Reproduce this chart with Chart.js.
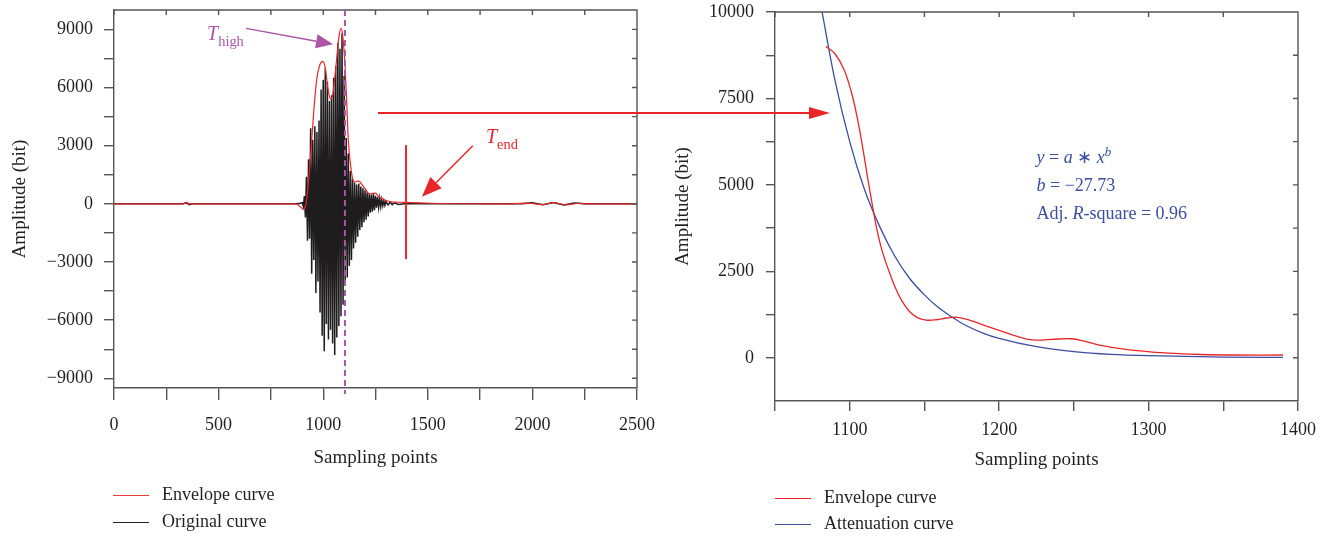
<!DOCTYPE html>
<html>
<head>
<meta charset="utf-8">
<script src="https://cdn.jsdelivr.net/npm/chart.js@4"></script>
<style>
  body { margin: 0; background: #fff; }
  #wrap { position: relative; width: 1331px; height: 537px; font-family: "Liberation Serif", serif; color: #231f20; }
  canvas { position: absolute; top: 0; }
  .leg { position: absolute; font-size: 18px; line-height: 20px; white-space: nowrap; }
  .leg i { display: inline-block; width: 36px; height: 0; border-top: 1.5px solid; vertical-align: middle; margin-right: 13px; }
</style>
</head>
<body>
<div id="wrap">
  <canvas id="leftChart" width="660" height="480" style="left:0"></canvas>
  <canvas id="rightChart" width="671" height="480" style="left:660px"></canvas>
  <svg width="1331" height="537" style="position:absolute;left:0;top:0;pointer-events:none">
    <line x1="378" y1="113" x2="812" y2="113" stroke="#e8262a" stroke-width="2.2"/>
    <polygon points="809,107 830,113 809,119" fill="#e8262a"/>
  </svg>
  <div class="leg" style="left:113px;top:484px"><i style="color:#ee3b3b"></i>Envelope curve</div>
  <div class="leg" style="left:113px;top:511px"><i style="color:#231f20"></i>Original curve</div>
  <div class="leg" style="left:775px;top:487px"><i style="color:#e8262a"></i>Envelope curve</div>
  <div class="leg" style="left:775px;top:513px"><i style="color:#3b4ea2"></i>Attenuation curve</div>
</div>
<script>
// ---- data ----
// left: whole record
const leftXTicks = [0, 250, 500, 750, 1000, 1250, 1500, 1750, 2000, 2250, 2500];
const leftYTicks = [-9000, -7500, -6000, -4500, -3000, -1500, 0, 1500, 3000, 4500, 6000, 7500, 9000];
const envelopeLeft = [
  [0, 0], [330, 0], [345, 80], [360, 0], [870, 0], [890, -150], [905, -280], [915, -150],
  [925, 600], [940, 2500], [955, 4800], [970, 6500], [985, 7200], [998, 7350], [1010, 7000],
  [1022, 6000], [1035, 5400], [1045, 5600], [1060, 7000], [1075, 8600], [1086, 9050],
  [1095, 8500], [1105, 7000], [1112, 5400], [1118, 3700], [1124, 2700], [1131, 2000],
  [1138, 1430], [1148, 1140], [1160, 1150], [1170, 1190], [1185, 1000], [1200, 780], [1220, 520],
  [1235, 530], [1248, 550], [1268, 350], [1300, 170], [1335, 90], [1390, 80], [1420, 60],
  [1500, 30], [1900, 0], [1980, 40], [2050, -40], [2100, 60], [2160, -50], [2220, 30],
  [2260, 0], [2500, 0]
];
const originalCurve = [
  [0, 0], [330, 0], [345, 60], [360, -40], [375, 0], [880, 0],
  [900, 60], [905, -150], [910, 400], [915, -700], [920, 1400], [925, -1900], [930, 2300],
  [935, -1800], [940, 3900], [945, -3600], [950, 3300], [955, -2900], [960, 4000],
  [965, -4600], [970, 3700], [975, -4000], [980, 4300], [985, -5600], [990, 5900],
  [995, -6800], [1000, 6400], [1005, -7600], [1010, 7000], [1015, -6200], [1020, 6300],
  [1025, -7000], [1030, 5300], [1035, -6500], [1040, 5600], [1045, -7200], [1050, 6500],
  [1055, -7800], [1060, 7100], [1065, -6900], [1070, 8300], [1075, -6300], [1080, 8000],
  [1085, -5800], [1090, 8800], [1095, -5200], [1100, 6600], [1105, -4100], [1110, 3400],
  [1115, -3800], [1120, 2600], [1125, -3200], [1130, 1700], [1135, -2900], [1140, 1300],
  [1145, -2300], [1150, 1100], [1155, -2000], [1160, 1000], [1165, -1700], [1170, 1050],
  [1175, -1350], [1180, 900], [1185, -1200], [1190, 800], [1195, -950], [1200, 700],
  [1205, -820], [1210, 600], [1215, -650], [1220, 500], [1225, -460], [1230, 480],
  [1235, -400], [1240, 500], [1245, -330], [1250, 420], [1255, -200], [1260, 350],
  [1265, -180], [1270, 280], [1275, -150], [1280, 220], [1285, -100], [1290, 160],
  [1295, -80], [1300, 120], [1310, -60], [1320, 80], [1330, -40], [1340, 50], [1360, -30],
  [1400, 20], [1600, 0], [1950, 0], [2000, 60], [2050, -50], [2100, 70], [2150, -60],
  [2200, 40], [2250, 0], [2500, 0]
];
// right: zoom on the decay
const rightXTicks = [1050, 1100, 1150, 1200, 1250, 1300, 1350, 1400];
const rightYTicks = [0, 1250, 2500, 3750, 5000, 6250, 7500, 8750, 10000];
const envelopeRight = [
  [1084, 9000], [1090, 8800], [1096, 8350], [1101, 7700], [1105, 6950], [1109, 6000],
  [1112, 5200], [1115, 4450], [1118, 3750], [1121, 3200], [1124, 2780], [1127, 2420],
  [1131, 1980], [1135, 1640], [1140, 1340], [1145, 1170], [1151, 1090], [1158, 1100],
  [1165, 1150], [1172, 1170], [1180, 1090], [1190, 940],
  [1201, 780], [1212, 620], [1222, 520], [1235, 530], [1248, 550], [1258, 470],
  [1268, 360], [1285, 240], [1301, 170], [1320, 120], [1335, 95], [1360, 80], [1390, 80]
];
const attenuation = [
  [1081.5, 10000], [1090, 8050], [1100, 6250], [1110, 4850], [1120, 3800], [1130, 2950],
  [1140, 2300], [1150, 1820], [1160, 1430], [1175, 1000], [1190, 700], [1200, 560],
  [1225, 320], [1250, 180], [1275, 100], [1300, 60], [1350, 20], [1390, 10]
];

const RED = '#e8262a', BLACK = '#1e1c1d', BLUE = '#3b4ea2', PURPLE = '#ab55a6', AXIS = '#555';
const TXT = '#231f20';
const FONT = 'Liberation Serif';

function pts(arr) { return arr.map(p => ({ x: p[0], y: p[1] })); }
function fmt(v) { return v < 0 ? '\u2212' + Math.abs(v) : String(v); }

// box lines on top/right with small inward ticks
const frame = {
  id: 'frame',
  afterDatasetsDraw(chart) {
    const { ctx, chartArea: a, scales: { x, y } } = chart;
    ctx.save();
    ctx.strokeStyle = AXIS;
    ctx.lineWidth = 1.4;
    ctx.beginPath();
    ctx.moveTo(a.left, a.top); ctx.lineTo(a.right, a.top); ctx.lineTo(a.right, a.bottom);
    x.ticks.forEach(t => { const px = x.getPixelForValue(t.value); ctx.moveTo(px, a.top); ctx.lineTo(px, a.top + 5); });
    y.ticks.forEach(t => { const py = y.getPixelForValue(t.value); ctx.moveTo(a.right, py); ctx.lineTo(a.right - 5, py); });
    ctx.stroke();
    ctx.restore();
  }
};

function arrow(ctx, x1, y1, x2, y2, len, half, color, w) {
  const ang = Math.atan2(y2 - y1, x2 - x1);
  const bx = x2 - len * Math.cos(ang), by = y2 - len * Math.sin(ang);
  ctx.strokeStyle = color; ctx.fillStyle = color; ctx.lineWidth = w;
  ctx.beginPath(); ctx.moveTo(x1, y1); ctx.lineTo(bx, by); ctx.stroke();
  ctx.beginPath();
  ctx.moveTo(x2, y2);
  ctx.lineTo(bx + half * Math.sin(ang), by - half * Math.cos(ang));
  ctx.lineTo(bx - half * Math.sin(ang), by + half * Math.cos(ang));
  ctx.closePath(); ctx.fill();
}

function runs(ctx, x, y, parts, size, color) {
  ctx.fillStyle = color;
  ctx.textBaseline = 'alphabetic';
  parts.forEach(p => {
    const s = p.sub || p.sup ? size * 0.72 : size;
    ctx.font = (p.i ? 'italic ' : '') + s + 'px "' + FONT + '"';
    const dy = p.sub ? size * 0.28 : p.sup ? -size * 0.4 : 0;
    ctx.fillText(p.t, x, y + dy);
    x += ctx.measureText(p.t).width;
  });
}

const leftNotes = {
  id: 'leftNotes',
  afterDatasetsDraw(chart) {
    const { ctx, chartArea: a, scales: { x, y } } = chart;
    ctx.save();
    // T_high marker
    ctx.strokeStyle = PURPLE; ctx.lineWidth = 2; ctx.setLineDash([6, 4]);
    const xh = x.getPixelForValue(1104);
    ctx.beginPath(); ctx.moveTo(xh, a.top); ctx.lineTo(xh, a.bottom + 6); ctx.stroke();
    ctx.setLineDash([]);
    arrow(ctx, x.getPixelForValue(631), y.getPixelForValue(9050), x.getPixelForValue(1047), y.getPixelForValue(8230), 17, 7, PURPLE, 1.3);
    runs(ctx, x.getPixelForValue(445), y.getPixelForValue(8430), [{ t: 'T', i: true }, { t: 'high', sub: true }], 20, PURPLE);
    // T_end marker
    ctx.strokeStyle = RED; ctx.lineWidth = 2;
    const xe = x.getPixelForValue(1396);
    ctx.beginPath(); ctx.moveTo(xe, y.getPixelForValue(3030)); ctx.lineTo(xe, y.getPixelForValue(-2850)); ctx.stroke();
    arrow(ctx, x.getPixelForValue(1715), y.getPixelForValue(3000), x.getPixelForValue(1472), y.getPixelForValue(360), 20, 8, RED, 1.5);
    runs(ctx, x.getPixelForValue(1778), y.getPixelForValue(3140), [{ t: 'T', i: true }, { t: 'end', sub: true }], 20, RED);
    ctx.restore();
  }
};

const rightNotes = {
  id: 'rightNotes',
  afterDatasetsDraw(chart) {
    const { ctx, scales: { x, y } } = chart;
    ctx.save();
    const x0 = x.getPixelForValue(1225);
    runs(ctx, x0, y.getPixelForValue(5640), [
      { t: 'y', i: true }, { t: ' = ' }, { t: 'a', i: true }, { t: ' \u2217 ' }, { t: 'x', i: true }, { t: 'b', i: true, sup: true }
    ], 18, BLUE);
    runs(ctx, x0, y.getPixelForValue(4810), [{ t: 'b', i: true }, { t: ' = \u221227.73' }], 18, BLUE);
    runs(ctx, x0, y.getPixelForValue(4000), [{ t: 'Adj. ' }, { t: 'R', i: true }, { t: '-square = 0.96' }], 18, BLUE);
    ctx.restore();
  }
};

function axis(opts) {
  return {
    type: 'linear',
    min: opts.min, max: opts.max,
    border: { display: true, color: AXIS, width: 1.4 },
    grid: { display: true, drawOnChartArea: false, drawTicks: true, tickLength: opts.tl, color: AXIS, lineWidth: 1.4 },
    ticks: {
      color: TXT, padding: opts.pad, maxRotation: 0, autoSkip: false,
      font: { family: FONT, size: 18 },
      callback: v => (v % opts.major === 0 ? fmt(v) : '')
    },
    title: { display: true, text: opts.title, color: TXT, font: { family: FONT, size: 19 }, padding: opts.tpad },
    afterBuildTicks: s => { s.ticks = opts.ticks.map(v => ({ value: v })); },
    afterFit: s => {
      if (opts.w) s.width = opts.w;
      if (opts.h) s.height = opts.h;
      s.paddingTop = 0; s.paddingBottom = 0; s.paddingLeft = 0; s.paddingRight = 0;
    }
  };
}

Chart.defaults.animation = false;

new Chart(document.getElementById('leftChart'), {
  type: 'scatter',
  data: {
    datasets: [
      { label: 'Original curve', data: pts(originalCurve), showLine: true, borderColor: BLACK, borderWidth: 1.5, pointRadius: 0, tension: 0, order: 2 },
      { label: 'Envelope curve', data: pts(envelopeLeft), showLine: true, borderColor: RED, borderWidth: 1.2, pointRadius: 0, cubicInterpolationMode: 'monotone', order: 1 }
    ]
  },
  options: {
    responsive: false,
    layout: { padding: { top: 10, right: 23, left: 0, bottom: 0 } },
    plugins: { legend: { display: false }, tooltip: { enabled: false } },
    scales: {
      x: axis({ min: 0, max: 2500, ticks: leftXTicks, major: 500, tl: 12, pad: 14, title: 'Sampling points', tpad: { top: 0, bottom: 11 }, h: 92 }),
      y: axis({ min: -9500, max: 10000, ticks: leftYTicks, major: 3000, tl: 10, pad: 11, title: 'Amplitude (bit)', tpad: { top: 9, bottom: 0 }, w: 114 })
    }
  },
  plugins: [frame, leftNotes]
});

new Chart(document.getElementById('rightChart'), {
  type: 'scatter',
  data: {
    datasets: [
      { label: 'Envelope curve', data: pts(envelopeRight), showLine: true, borderColor: RED, borderWidth: 1.3, pointRadius: 0, tension: 0.4 },
      { label: 'Attenuation curve', data: pts(attenuation), showLine: true, borderColor: BLUE, borderWidth: 1.3, pointRadius: 0, cubicInterpolationMode: 'monotone' }
    ]
  },
  options: {
    responsive: false,
    layout: { padding: { top: 12, right: 33, left: 0, bottom: 0 } },
    plugins: { legend: { display: false }, tooltip: { enabled: false } },
    scales: {
      x: axis({ min: 1050, max: 1400, ticks: rightXTicks, major: 100, tl: 10, pad: 8, title: 'Sampling points', tpad: { top: 0, bottom: 9 }, h: 79 }),
      y: axis({ min: -1250, max: 10000, ticks: rightYTicks, major: 2500, tl: 9, pad: 12, title: 'Amplitude (bit)', tpad: { top: 12, bottom: 0 }, w: 115 })
    }
  },
  plugins: [frame, rightNotes]
});
</script>
</body>
</html>
